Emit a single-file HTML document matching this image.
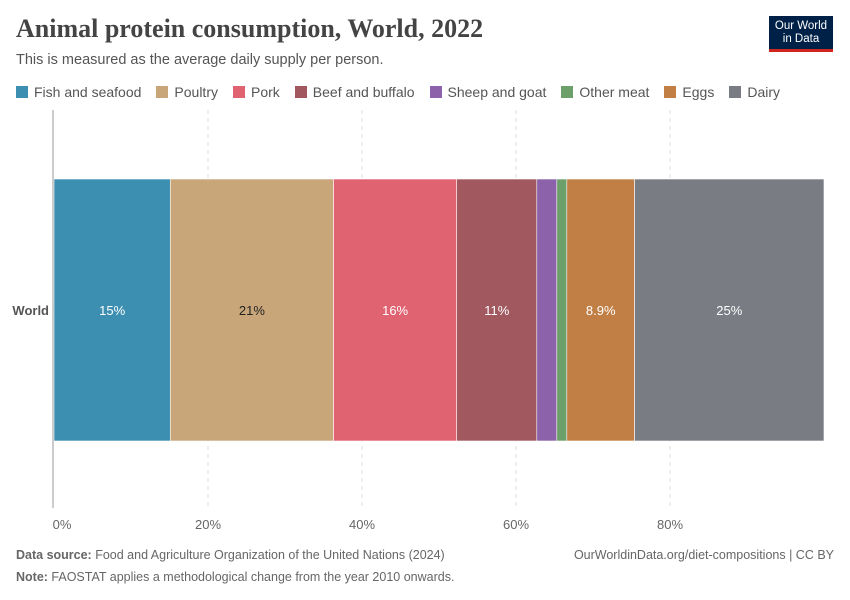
<!DOCTYPE html>
<html><head><meta charset="utf-8">
<style>
body{margin:0;background:#fff;font-family:"Liberation Sans",sans-serif;}
#wrap{position:relative;width:850px;height:600px;overflow:hidden;}
.title{position:absolute;left:16px;top:14px;font-family:"Liberation Serif",serif;font-size:26px;color:#444;font-weight:bold;}
.sub{position:absolute;left:16px;top:52px;font-size:14.5px;color:#555;}
.logo{position:absolute;left:769px;top:16px;width:64px;height:36px;background:#002147;color:#fff;font-size:11.5px;line-height:13px;text-align:center;padding-top:4px;box-sizing:border-box;border-bottom:3px solid #ce261e;}
.legend{position:absolute;left:16px;top:84px;font-size:14px;color:#555;display:flex;}
.li{display:flex;align-items:center;margin-right:15px;}
.sw{width:12px;height:12px;margin-right:6px;}
.foot{position:absolute;font-size:12.5px;color:#666;}
</style></head><body>
<div id="wrap">
<div class="title">Animal protein consumption, World, 2022</div>
<div class="sub">This is measured as the average daily supply per person.</div>
<div class="logo">Our World<br>in Data</div>
<div class="legend" id="legend"></div>
<svg id="svg" width="850" height="600" style="position:absolute;left:0;top:0"></svg>
<div class="foot" style="left:16px;top:548px"><b>Data source:</b> Food and Agriculture Organization of the United Nations (2024)</div>
<div class="foot" style="left:16px;top:570px"><b>Note:</b> FAOSTAT applies a methodological change from the year 2010 onwards.</div>
<div class="foot" style="right:16px;top:548px">OurWorldinData.org/diet-compositions | CC BY</div>
</div>
<script>
const categories=["Fish and seafood","Poultry","Pork","Beef and buffalo","Sheep and goat","Other meat","Eggs","Dairy"];
const values=[15.1,21.2,16.0,10.4,2.6,1.3,8.8,24.6];
const valueLabels=["15%","21%","16%","11%","","","8.9%","25%"];
const colors=["#3c8fb1","#c9a67a","#e06371","#a1585f","#8c63ab","#6d9f6b","#c17f45","#7a7c84"];
const ticks=[0,20,40,60,80];
const NS="http://www.w3.org/2000/svg";
const svg=document.getElementById('svg');
const x0=54,pxPer=7.7,y0=179,y1=441;
const xs=v=>x0+v*pxPer;
function mk(t,a){const e=document.createElementNS(NS,t);for(const k in a)e.setAttribute(k,a[k]);svg.appendChild(e);return e;}
ticks.forEach(t=>{
 if(t>0){const g=mk('line',{x1:xs(t),x2:xs(t),y1:110,y2:508,stroke:'#ddd','stroke-dasharray':'4,4'});
 
 }
 const l=mk('text',{x:xs(t)+(t==0?8:0),y:529,'text-anchor':'middle','font-size':13,fill:'#666'});
 l.textContent=t+'%';
 
 
});
const ax=mk('line',{x1:53,x2:53,y1:110,y2:508,stroke:'#999'});


const yl=mk('text',{x:49,y:315,'text-anchor':'end','font-size':13,'font-weight':'bold',fill:'#555'});
yl.textContent='World';


let acc=0;
values.forEach((v,i)=>{
 const r=mk('rect',{x:xs(acc),y:y0,width:v*pxPer,height:y1-y0,fill:colors[i],stroke:'#fff','stroke-width':0.6});
 
 
 if(valueLabels[i]){const t=mk('text',{x:xs(acc+v/2),y:315,'text-anchor':'middle','font-size':13,fill:i==1?'#222':'#fff'});
 t.textContent=valueLabels[i];
 
 }
 acc+=v;
});
const lg=document.getElementById('legend');
categories.forEach((c,i)=>{
 const d=document.createElement('div');d.className='li';
 d.innerHTML='<div class="sw" style="background:'+colors[i]+'"></div>'+c;
 
 
 lg.appendChild(d);
});
</script>
</body></html>
